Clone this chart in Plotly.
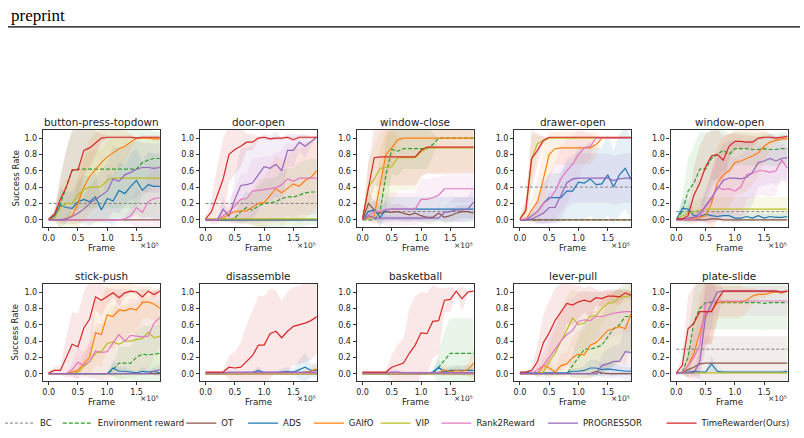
import plotly.graph_objects as go

FRAMES = [0, 10000, 20000, 30000, 40000, 50000, 60000, 70000, 80000, 90000,
          100000, 110000, 120000, 130000, 140000, 150000, 160000, 170000, 180000, 190000]

TASKS = ["button-press-topdown", "door-open", "window-close", "drawer-open", "window-open",
         "stick-push", "disassemble", "basketball", "lever-pull", "plate-slide"]
TASK_KEYS = ["BPT", "DO", "WC", "DRO", "WO", "SP", "DIS", "BB", "LP", "PS"]

METHODS = ["BC", "Environment reward", "OT", "ADS", "GAIfO", "VIP", "Rank2Reward", "PROGRESSOR", "TimeRewarder(Ours)"]
METHOD_KEYS = ["BC", "ENV", "OT", "ADS", "GAIFO", "VIP", "R2R", "PROG", "TR"]
COLORS = ["#7f7f7f", "#2ca02c", "#8c564b", "#1f77b4", "#ff7f0e", "#bcbd22", "#e377c2", "#9467bd", "#d62728"]

X_TICKS = [0, 50000, 100000, 150000]
X_TICK_TEXT = ["0.0", "0.5", "1.0", "1.5"]
Y_TICKS = [0.0, 0.2, 0.4, 0.6, 0.8, 1.0]
Y_TICK_TEXT = ["0.0", "0.2", "0.4", "0.6", "0.8", "1.0"]

# ---------------- button-press-topdown ----------------
BPT_BC = [0.2, 0.2, 0.2, 0.2, 0.2, 0.2, 0.2, 0.2, 0.2, 0.2, 0.2, 0.2, 0.2, 0.2, 0.2, 0.2, 0.2, 0.2, 0.2, 0.2]
BPT_ENV = [0.01, 0.03, 0.2, 0.4, 0.6, 0.62, 0.62, 0.62, 0.62, 0.62, 0.62, 0.62, 0.62, 0.62, 0.62, 0.62, 0.7, 0.73, 0.75, 0.75]
BPT_OT = [0, 0, 0, 0, 0, 0, 0, 0, 0, 0, 0, 0, 0, 0, 0, 0, 0, 0, 0, 0]
BPT_ADS = [0.0, 0.05, 0.18, 0.15, 0.14, 0.22, 0.25, 0.22, 0.28, 0.12, 0.26, 0.23, 0.36, 0.32, 0.41, 0.48, 0.36, 0.43, 0.41, 0.41]
BPT_GAIFO = [0, 0, 0, 0.01, 0.05, 0.2, 0.4, 0.53, 0.62, 0.7, 0.77, 0.82, 0.87, 0.9, 0.95, 1.0, 1.0, 1.0, 0.99, 0.99]
BPT_VIP = [0, 0.02, 0.15, 0.2, 0.2, 0.3, 0.37, 0.4, 0.4, 0.41, 0.48, 0.51, 0.51, 0.51, 0.51, 0.51, 0.51, 0.51, 0.51, 0.51]
BPT_R2R = [0, 0, 0, 0, 0, 0, 0, 0, 0, 0, 0, 0, 0, 0.01, 0.05, 0.15, 0.09, 0.22, 0.26, 0.27]
BPT_PROG = [0, 0, 0, 0.01, 0.04, 0.08, 0.13, 0.2, 0.25, 0.3, 0.35, 0.5, 0.47, 0.55, 0.58, 0.62, 0.64, 0.64, 0.63, 0.64]
BPT_TR = [0.01, 0.07, 0.25, 0.4, 0.61, 0.61, 0.85, 0.88, 0.94, 1.0, 1.01, 1.01, 1.01, 1.01, 1.01, 1.0, 1.01, 1.01, 1.01, 1.01]
BPT_ENV_SD = [0.01, 0.05, 0.3, 0.45, 0.48, 0.48, 0.48, 0.48, 0.48, 0.48, 0.48, 0.48, 0.48, 0.48, 0.48, 0.48, 0.4, 0.38, 0.33, 0.33]
BPT_ADS_SD = [0, 0.06, 0.2, 0.2, 0.2, 0.25, 0.3, 0.3, 0.3, 0.15, 0.3, 0.3, 0.35, 0.35, 0.4, 0.4, 0.35, 0.4, 0.4, 0.4]
BPT_GAIFO_SD = [0, 0, 0, 0.02, 0.1, 0.3, 0.4, 0.45, 0.45, 0.4, 0.35, 0.3, 0.25, 0.2, 0.1, 0.01, 0.01, 0.01, 0.02, 0.02]
BPT_VIP_SD = [0, 0.04, 0.25, 0.3, 0.3, 0.35, 0.4, 0.45, 0.45, 0.45, 0.48, 0.48, 0.48, 0.48, 0.48, 0.48, 0.48, 0.48, 0.48, 0.48]
BPT_R2R_SD = [0, 0, 0, 0, 0, 0, 0, 0, 0, 0, 0, 0, 0, 0.02, 0.1, 0.25, 0.2, 0.35, 0.4, 0.4]
BPT_PROG_SD = [0, 0, 0, 0.02, 0.05, 0.1, 0.15, 0.2, 0.25, 0.3, 0.35, 0.4, 0.4, 0.35, 0.35, 0.35, 0.3, 0.3, 0.3, 0.3]
BPT_TR_SD = [0.01, 0.08, 0.3, 0.45, 0.5, 0.5, 0.3, 0.25, 0.15, 0.05, 0.02, 0.02, 0.02, 0.02, 0.02, 0.02, 0.02, 0.02, 0.02, 0.02]

# ---------------- door-open ----------------
DO_BC = [0.2, 0.2, 0.2, 0.2, 0.2, 0.2, 0.2, 0.2, 0.2, 0.2, 0.2, 0.2, 0.2, 0.2, 0.2, 0.2, 0.2, 0.2, 0.2, 0.2]
DO_ENV = [0, 0, 0, 0, 0, 0.02, 0.1, 0.15, 0.12, 0.17, 0.2, 0.21, 0.22, 0.26, 0.28, 0.28, 0.3, 0.33, 0.34, 0.34]
DO_OT = [0, 0, 0, 0, 0, 0, 0, 0, 0, 0, 0, 0, 0, 0, 0, 0, 0, 0, 0, 0]
DO_ADS = [0, 0, 0, 0, 0, 0, 0, 0, 0, 0, 0, 0, 0, 0, 0, 0, 0, 0, 0, 0]
DO_GAIFO = [0, 0, 0, 0.02, 0.07, 0.1, 0.11, 0.11, 0.16, 0.2, 0.21, 0.3, 0.38, 0.33, 0.38, 0.44, 0.41, 0.48, 0.52, 0.6]
DO_VIP = [0.01, 0.01, 0.01, 0.01, 0.01, 0.01, 0.01, 0.01, 0.01, 0.01, 0.01, 0.01, 0.01, 0.01, 0.01, 0.01, 0.01, 0.01, 0.01, 0.01]
DO_R2R = [0, 0, 0, 0.05, 0.1, 0.17, 0.25, 0.26, 0.35, 0.36, 0.37, 0.38, 0.39, 0.43, 0.5, 0.47, 0.51, 0.51, 0.51, 0.51]
DO_PROG = [0, 0, 0, 0.13, 0.04, 0.25, 0.42, 0.43, 0.45, 0.55, 0.65, 0.63, 0.68, 0.6, 0.85, 0.85, 0.95, 0.9, 0.96, 1.01]
DO_TR = [0.01, 0.1, 0.3, 0.5, 0.8, 0.86, 0.9, 0.95, 0.95, 1.0, 1.01, 0.99, 1.0, 1.0, 1.01, 0.98, 1.01, 1.01, 1.01, 1.01]
DO_ENV_SD = [0, 0, 0, 0, 0, 0.03, 0.15, 0.2, 0.2, 0.25, 0.3, 0.3, 0.3, 0.35, 0.35, 0.35, 0.4, 0.4, 0.4, 0.4]
DO_GAIFO_SD = [0, 0, 0, 0.03, 0.1, 0.15, 0.15, 0.15, 0.2, 0.3, 0.3, 0.35, 0.4, 0.4, 0.4, 0.45, 0.45, 0.45, 0.45, 0.45]
DO_R2R_SD = [0, 0, 0, 0.08, 0.15, 0.2, 0.3, 0.3, 0.4, 0.4, 0.4, 0.4, 0.42, 0.42, 0.45, 0.45, 0.45, 0.45, 0.45, 0.45]
DO_PROG_SD = [0, 0, 0, 0.15, 0.05, 0.3, 0.45, 0.45, 0.45, 0.45, 0.4, 0.4, 0.4, 0.4, 0.2, 0.2, 0.1, 0.15, 0.05, 0.02]
DO_TR_SD = [0.01, 0.15, 0.35, 0.5, 0.35, 0.3, 0.25, 0.1, 0.1, 0.02, 0.02, 0.02, 0.02, 0.02, 0.02, 0.03, 0.02, 0.02, 0.02, 0.02]

# ---------------- window-close ----------------
WC_BC = [0.1, 0.1, 0.1, 0.1, 0.1, 0.1, 0.1, 0.1, 0.1, 0.1, 0.1, 0.1, 0.1, 0.1, 0.1, 0.1, 0.1, 0.1, 0.1, 0.1]
WC_ENV = [0, 0, 0, 0.1, 0.55, 0.86, 0.84, 0.87, 0.87, 0.87, 0.87, 0.87, 0.92, 1.0, 1.0, 1.0, 1.0, 1.0, 1.0, 1.0]
WC_OT = [0, 0.2, 0.12, 0.08, 0.1, 0.09, 0.1, 0.08, 0.06, 0.08, 0.05, 0.03, 0.03, 0.08, 0.03, 0.05, 0.08, 0.1, 0.1, 0.08]
WC_ADS = [0, 0.1, 0.12, 0.03, 0.12, 0.13, 0.13, 0.13, 0.13, 0.13, 0.13, 0.13, 0.13, 0.13, 0.13, 0.13, 0.13, 0.13, 0.13, 0.13]
WC_GAIFO = [0, 0.02, 0.05, 0.45, 0.8, 0.88, 0.98, 1.0, 1.0, 1.0, 1.0, 1.0, 1.0, 1.0, 1.0, 1.0, 1.0, 1.0, 1.0, 1.0]
WC_VIP = [0.01, 0.4, 0.5, 0.63, 0.64, 0.65, 0.76, 0.76, 0.76, 0.76, 0.83, 0.88, 0.88, 0.88, 0.88, 0.88, 0.88, 0.88, 0.88, 0.88]
WC_R2R = [0, 0.05, 0.1, 0.1, 0.13, 0.13, 0.13, 0.13, 0.13, 0.13, 0.25, 0.25, 0.27, 0.3, 0.38, 0.38, 0.38, 0.38, 0.38, 0.38]
WC_PROG = [0, 0.05, 0.02, 0.02, 0.02, 0.02, 0.02, 0.02, 0.02, 0.02, 0.02, 0.02, 0.02, 0.02, 0.09, 0.1, 0.12, 0.12, 0.13, 0.22]
WC_TR = [0.01, 0.4, 0.76, 0.77, 0.77, 0.77, 0.77, 0.77, 0.77, 0.77, 0.85, 0.89, 0.89, 0.89, 0.89, 0.89, 0.89, 0.89, 0.89, 0.89]
WC_ENV_SD = [0, 0, 0, 0.2, 0.45, 0.3, 0.3, 0.25, 0.25, 0.25, 0.25, 0.25, 0.15, 0, 0, 0, 0, 0, 0, 0]
WC_OT_SD = [0, 0.15, 0.12, 0.1, 0.1, 0.1, 0.1, 0.1, 0.08, 0.08, 0.08, 0.08, 0.08, 0.08, 0.08, 0.08, 0.08, 0.08, 0.08, 0.08]
WC_ADS_SD = [0, 0.1, 0.12, 0.08, 0.15, 0.15, 0.15, 0.15, 0.15, 0.15, 0.15, 0.15, 0.15, 0.15, 0.15, 0.15, 0.15, 0.15, 0.15, 0.15]
WC_GAIFO_SD = [0, 0.03, 0.1, 0.4, 0.3, 0.2, 0.05, 0, 0, 0, 0, 0, 0, 0, 0, 0, 0, 0, 0, 0]
WC_VIP_SD = [0, 0.3, 0.4, 0.45, 0.45, 0.45, 0.4, 0.4, 0.4, 0.4, 0.3, 0.3, 0.3, 0.3, 0.3, 0.3, 0.3, 0.3, 0.3, 0.3]
WC_R2R_SD = [0, 0.08, 0.15, 0.15, 0.2, 0.2, 0.2, 0.2, 0.2, 0.2, 0.25, 0.25, 0.25, 0.22, 0.17, 0.17, 0.17, 0.17, 0.17, 0.17]
WC_PROG_SD = [0, 0.05, 0.03, 0.03, 0.03, 0.03, 0.03, 0.03, 0.03, 0.03, 0.03, 0.03, 0.03, 0.03, 0.1, 0.12, 0.15, 0.15, 0.15, 0.2]
WC_TR_SD = [0.01, 0.3, 0.35, 0.35, 0.35, 0.35, 0.35, 0.35, 0.35, 0.35, 0.33, 0.33, 0.33, 0.33, 0.33, 0.33, 0.33, 0.33, 0.33, 0.33]

# ---------------- drawer-open ----------------
DRO_BC = [0.4, 0.4, 0.4, 0.4, 0.4, 0.4, 0.4, 0.4, 0.4, 0.4, 0.4, 0.4, 0.4, 0.4, 0.4, 0.4, 0.4, 0.4, 0.4, 0.4]
DRO_ENV = [0, 0, 0, 0, 0, 0, 0, 0, 0, 0, 0, 0, 0, 0, 0, 0, 0, 0, 0, 0]
DRO_OT = [0, 0, 0, 0, 0, 0, 0, 0, 0, 0, 0, 0, 0, 0, 0, 0, 0, 0, 0, 0]
DRO_ADS = [0, 0, 0.05, 0.1, 0.2, 0.27, 0.27, 0.27, 0.35, 0.35, 0.46, 0.45, 0.5, 0.43, 0.44, 0.55, 0.4, 0.55, 0.63, 0.49]
DRO_GAIFO = [0, 0, 0.12, 0.22, 0.5, 0.8, 0.87, 0.88, 0.88, 0.88, 0.88, 0.88, 0.88, 0.92, 1.0, 1.0, 1.0, 1.0, 1.0, 1.0]
DRO_VIP = [0.01, 0.1, 0.75, 0.93, 0.97, 1.0, 1.0, 1.0, 1.0, 1.0, 1.0, 1.0, 1.0, 1.0, 1.0, 1.0, 1.0, 1.0, 1.0, 1.0]
DRO_R2R = [0, 0.01, 0.05, 0.1, 0.2, 0.25, 0.35, 0.5, 0.6, 0.68, 0.8, 0.88, 0.9, 1.0, 1.0, 1.0, 1.0, 1.0, 1.0, 1.0]
DRO_PROG = [0, 0, 0.01, 0.05, 0.08, 0.15, 0.15, 0.3, 0.45, 0.5, 0.51, 0.51, 0.51, 0.51, 0.51, 0.51, 0.48, 0.5, 0.51, 0.51]
DRO_TR = [0.01, 0.12, 0.75, 0.85, 0.97, 1.01, 1.01, 1.01, 1.01, 1.01, 1.01, 1.01, 1.01, 1.01, 1.01, 1.01, 1.01, 1.01, 1.01, 1.01]
DRO_ADS_SD = [0, 0, 0.05, 0.15, 0.25, 0.3, 0.3, 0.3, 0.35, 0.35, 0.45, 0.45, 0.45, 0.45, 0.45, 0.5, 0.45, 0.5, 0.5, 0.5]
DRO_GAIFO_SD = [0, 0, 0.15, 0.25, 0.4, 0.3, 0.2, 0.2, 0.2, 0.2, 0.2, 0.2, 0.2, 0.15, 0, 0, 0, 0, 0, 0]
DRO_VIP_SD = [0.01, 0.1, 0.3, 0.1, 0.05, 0, 0, 0, 0, 0, 0, 0, 0, 0, 0, 0, 0, 0, 0, 0]
DRO_R2R_SD = [0, 0.02, 0.08, 0.15, 0.25, 0.3, 0.35, 0.4, 0.4, 0.35, 0.3, 0.2, 0.15, 0, 0, 0, 0, 0, 0, 0]
DRO_PROG_SD = [0, 0, 0.02, 0.08, 0.12, 0.2, 0.2, 0.3, 0.3, 0.3, 0.3, 0.3, 0.3, 0.3, 0.3, 0.3, 0.3, 0.3, 0.3, 0.3]
DRO_TR_SD = [0.01, 0.15, 0.35, 0.2, 0.05, 0, 0, 0, 0, 0, 0, 0, 0, 0, 0, 0, 0, 0, 0, 0]

# ---------------- window-open ----------------
WO_BC = [0.1, 0.1, 0.1, 0.1, 0.1, 0.1, 0.1, 0.1, 0.1, 0.1, 0.1, 0.1, 0.1, 0.1, 0.1, 0.1, 0.1, 0.1, 0.1, 0.1]
WO_ENV = [0, 0.1, 0.35, 0.45, 0.62, 0.62, 0.75, 0.8, 0.85, 0.8, 0.87, 0.87, 0.87, 0.86, 0.86, 0.87, 0.86, 0.86, 0.87, 0.87]
WO_OT = [0, 0, 0, 0, 0, 0, 0.01, 0.01, 0, 0, 0, 0, 0, 0, 0, 0, 0, 0, 0, 0]
WO_ADS = [0, 0.14, 0.13, 0.05, 0.04, 0.07, 0.05, 0.04, 0.05, 0.05, 0.02, 0.02, 0.04, 0.02, 0.05, 0.02, 0.04, 0.03, 0.03, 0.04]
WO_GAIFO = [0.01, 0.01, 0.01, 0.02, 0.03, 0.05, 0.2, 0.45, 0.55, 0.6, 0.7, 0.72, 0.75, 0.78, 0.82, 0.9, 0.95, 0.97, 0.99, 0.99]
WO_VIP = [0, 0.05, 0.08, 0.1, 0.12, 0.13, 0.13, 0.13, 0.13, 0.13, 0.13, 0.13, 0.13, 0.13, 0.13, 0.13, 0.13, 0.13, 0.13, 0.13]
WO_R2R = [0, 0, 0, 0, 0.05, 0.15, 0.25, 0.4, 0.37, 0.38, 0.35, 0.4, 0.55, 0.57, 0.6, 0.6, 0.58, 0.6, 0.73, 0.63]
WO_PROG = [0, 0.01, 0.02, 0.03, 0.08, 0.17, 0.27, 0.38, 0.48, 0.51, 0.51, 0.5, 0.52, 0.58, 0.7, 0.72, 0.75, 0.72, 0.75, 0.76]
WO_TR = [0.01, 0.01, 0.05, 0.3, 0.45, 0.65, 0.78, 0.8, 0.73, 0.9, 0.96, 0.96, 0.95, 0.95, 1.0, 1.01, 1.01, 1.0, 1.01, 1.02]
WO_ENV_SD = [0, 0.15, 0.4, 0.45, 0.45, 0.45, 0.35, 0.3, 0.25, 0.25, 0.2, 0.2, 0.2, 0.2, 0.2, 0.2, 0.2, 0.2, 0.2, 0.2]
WO_ADS_SD = [0, 0.12, 0.12, 0.06, 0.05, 0.06, 0.05, 0.05, 0.05, 0.05, 0.05, 0.05, 0.05, 0.05, 0.05, 0.05, 0.05, 0.05, 0.05, 0.05]
WO_GAIFO_SD = [0, 0, 0, 0, 0, 0.08, 0.4, 0.45, 0.45, 0.45, 0.4, 0.4, 0.4, 0.35, 0.3, 0.2, 0.1, 0.05, 0.02, 0.02]
WO_VIP_SD = [0, 0.06, 0.1, 0.12, 0.14, 0.15, 0.15, 0.15, 0.15, 0.15, 0.15, 0.15, 0.15, 0.15, 0.15, 0.15, 0.15, 0.15, 0.15, 0.15]
WO_R2R_SD = [0, 0, 0, 0, 0.08, 0.2, 0.3, 0.4, 0.4, 0.4, 0.4, 0.4, 0.3, 0.3, 0.3, 0.3, 0.3, 0.3, 0.2, 0.25]
WO_PROG_SD = [0, 0.01, 0.02, 0.04, 0.1, 0.2, 0.3, 0.4, 0.45, 0.45, 0.45, 0.45, 0.45, 0.4, 0.3, 0.3, 0.3, 0.3, 0.28, 0.28]
WO_TR_SD = [0.01, 0.01, 0.08, 0.35, 0.45, 0.4, 0.3, 0.3, 0.3, 0.15, 0.1, 0.08, 0.08, 0.08, 0.02, 0.02, 0.02, 0.02, 0.02, 0.02]

# ---------------- stick-push ----------------
SP_BC = [0, 0, 0, 0, 0, 0, 0, 0, 0, 0, 0, 0, 0, 0, 0, 0, 0, 0, 0, 0]
SP_ENV = [0, 0, 0, 0, 0, 0, 0, 0, 0, 0, 0, 0.05, 0.13, 0.13, 0.13, 0.2, 0.24, 0.23, 0.24, 0.25]
SP_OT = [0, 0, 0, 0, 0, 0, 0, 0, 0, 0, 0, 0, 0, 0, 0, 0, 0, 0, 0, 0]
SP_ADS = [0, 0, 0, 0, 0, 0, 0, 0, 0, 0, 0, 0.07, 0.03, 0.03, 0.02, 0.01, 0.03, 0.02, 0.03, 0.01]
SP_GAIFO = [0, 0, 0, 0, 0.02, 0.04, 0.12, 0.2, 0.5, 0.48, 0.72, 0.7, 0.78, 0.77, 0.8, 0.78, 0.87, 0.88, 0.85, 0.8]
SP_VIP = [0, 0, 0, 0, 0, 0.02, 0.08, 0.15, 0.25, 0.27, 0.37, 0.39, 0.36, 0.4, 0.4, 0.42, 0.43, 0.51, 0.44, 0.46]
SP_R2R = [0, 0, 0, 0, 0.05, 0.14, 0.1, 0.15, 0.28, 0.26, 0.27, 0.38, 0.48, 0.4, 0.47, 0.46, 0.45, 0.46, 0.62, 0.69]
SP_PROG = [0, 0, 0, 0, 0, 0, 0, 0, 0, 0, 0, 0, 0, 0, 0, 0, 0, 0, 0.03, 0.05]
SP_TR = [0.01, 0.04, 0.04, 0.2, 0.36, 0.33, 0.56, 0.67, 0.94, 0.9, 0.95, 0.99, 0.93, 0.99, 1.01, 1.0, 0.94, 1.01, 0.97, 1.01]
SP_ENV_SD = [0, 0, 0, 0, 0, 0, 0, 0, 0, 0, 0, 0.08, 0.2, 0.2, 0.2, 0.3, 0.35, 0.35, 0.35, 0.35]
SP_ADS_SD = [0, 0, 0, 0, 0, 0, 0, 0, 0, 0, 0, 0.1, 0.05, 0.05, 0.03, 0.02, 0.05, 0.03, 0.05, 0.02]
SP_GAIFO_SD = [0, 0, 0, 0, 0.03, 0.05, 0.15, 0.2, 0.4, 0.4, 0.4, 0.4, 0.35, 0.35, 0.3, 0.3, 0.2, 0.2, 0.2, 0.25]
SP_VIP_SD = [0, 0, 0, 0, 0, 0.03, 0.1, 0.2, 0.3, 0.35, 0.4, 0.45, 0.45, 0.45, 0.45, 0.45, 0.45, 0.45, 0.45, 0.45]
SP_R2R_SD = [0, 0, 0, 0, 0.08, 0.2, 0.15, 0.2, 0.35, 0.35, 0.35, 0.4, 0.45, 0.4, 0.45, 0.45, 0.45, 0.45, 0.4, 0.35]
SP_PROG_SD = [0, 0, 0, 0, 0, 0, 0, 0, 0, 0, 0, 0, 0, 0, 0, 0, 0, 0, 0.05, 0.08]
SP_TR_SD = [0.01, 0.05, 0.05, 0.25, 0.4, 0.4, 0.45, 0.45, 0.15, 0.2, 0.1, 0.05, 0.1, 0.05, 0.02, 0.02, 0.1, 0.02, 0.05, 0.02]

# ---------------- disassemble ----------------
DIS_BC = [0, 0, 0, 0, 0, 0, 0, 0, 0, 0, 0, 0, 0, 0, 0, 0, 0, 0, 0, 0]
DIS_ENV = [0, 0, 0, 0, 0, 0, 0, 0, 0, 0, 0, 0, 0, 0, 0, 0, 0, 0, 0, 0]
DIS_OT = [0, 0, 0, 0, 0, 0, 0, 0, 0, 0, 0, 0, 0, 0, 0, 0, 0, 0, 0, 0]
DIS_ADS = [0, 0, 0, 0, 0, 0, 0, 0.01, 0.01, 0.04, 0.01, 0.01, 0.01, 0.02, 0.03, 0.02, 0.05, 0.08, 0.04, 0.04]
DIS_GAIFO = [0, 0, 0, 0, 0, 0, 0, 0, 0, 0, 0, 0, 0, 0, 0, 0, 0, 0.02, 0.03, 0.06]
DIS_VIP = [0, 0, 0, 0, 0, 0, 0, 0, 0, 0, 0, 0, 0, 0, 0, 0, 0, 0, 0, 0]
DIS_R2R = [0.01, 0.01, 0.01, 0.01, 0.01, 0.01, 0.01, 0.01, 0.01, 0.01, 0.01, 0.01, 0.01, 0.01, 0.01, 0.01, 0.01, 0.01, 0.01, 0.01]
DIS_PROG = [0.01, 0.01, 0.01, 0.01, 0.02, 0.02, 0.02, 0.02, 0.02, 0.02, 0.02, 0.02, 0.02, 0.02, 0.02, 0.02, 0.02, 0.02, 0.02, 0.02]
DIS_TR = [0.02, 0.02, 0.02, 0.02, 0.08, 0.07, 0.08, 0.15, 0.22, 0.35, 0.35, 0.49, 0.52, 0.44, 0.52, 0.58, 0.6, 0.62, 0.65, 0.7]
DIS_ADS_SD = [0, 0, 0, 0, 0, 0, 0, 0.01, 0.02, 0.05, 0.02, 0.02, 0.02, 0.04, 0.05, 0.04, 0.12, 0.18, 0.08, 0.08]
DIS_GAIFO_SD = [0, 0, 0, 0, 0, 0, 0, 0, 0, 0, 0, 0, 0, 0, 0, 0, 0, 0.03, 0.05, 0.08]
DIS_TR_SD = [0.01, 0.01, 0.01, 0.01, 0.15, 0.2, 0.3, 0.45, 0.55, 0.6, 0.6, 0.55, 0.5, 0.45, 0.48, 0.48, 0.48, 0.48, 0.48, 0.45]

# ---------------- basketball ----------------
BB_BC = [0, 0, 0, 0, 0, 0, 0, 0, 0, 0, 0, 0, 0, 0, 0, 0, 0, 0, 0, 0]
BB_ENV = [0, 0, 0, 0, 0, 0, 0, 0, 0, 0, 0, 0, 0, 0.08, 0.17, 0.25, 0.25, 0.25, 0.25, 0.25]
BB_OT = [0, 0, 0, 0, 0, 0, 0, 0, 0, 0, 0, 0, 0, 0, 0, 0, 0, 0, 0, 0]
BB_ADS = [0, 0, 0, 0, 0, 0, 0, 0, 0, 0, 0, 0, 0.02, 0.08, 0.02, 0.04, 0.04, 0.04, 0.04, 0.04]
BB_GAIFO = [0, 0, 0, 0, 0, 0, 0, 0, 0, 0, 0, 0, 0, 0.01, 0.05, 0.02, 0.04, 0.03, 0.05, 0.13]
BB_VIP = [0, 0, 0, 0, 0, 0, 0, 0, 0, 0, 0, 0, 0, 0, 0, 0, 0, 0, 0, 0]
BB_R2R = [0.01, 0.01, 0.01, 0.01, 0.01, 0.01, 0.01, 0.01, 0.01, 0.01, 0.01, 0.01, 0.01, 0.01, 0.01, 0.01, 0.01, 0.01, 0.01, 0.01]
BB_PROG = [0.01, 0.01, 0.01, 0.01, 0.01, 0.02, 0.02, 0.01, 0.01, 0.01, 0.01, 0.01, 0.01, 0.01, 0.01, 0.01, 0.01, 0.01, 0.01, 0.01]
BB_TR = [0.02, 0.02, 0.02, 0.02, 0.02, 0.08, 0.11, 0.13, 0.25, 0.35, 0.5, 0.49, 0.64, 0.65, 0.9, 0.91, 1.01, 0.92, 1.0, 1.01]
BB_ENV_SD = [0, 0, 0, 0, 0, 0, 0, 0, 0, 0, 0, 0, 0, 0.2, 0.35, 0.43, 0.43, 0.43, 0.43, 0.43]
BB_ADS_SD = [0, 0, 0, 0, 0, 0, 0, 0, 0, 0, 0, 0, 0.03, 0.1, 0.03, 0.06, 0.06, 0.06, 0.06, 0.06]
BB_GAIFO_SD = [0, 0, 0, 0, 0, 0, 0, 0, 0, 0, 0, 0, 0, 0.02, 0.08, 0.04, 0.06, 0.05, 0.08, 0.2]
BB_PROG_SD = [0, 0, 0, 0, 0.02, 0.03, 0.03, 0.02, 0.02, 0.02, 0.02, 0.02, 0.02, 0.02, 0.02, 0.02, 0.02, 0.02, 0.02, 0.02]
BB_TR_SD = [0.01, 0.01, 0.01, 0.01, 0.02, 0.15, 0.25, 0.3, 0.55, 0.6, 0.5, 0.5, 0.45, 0.4, 0.15, 0.15, 0.02, 0.15, 0.02, 0.02]

# ---------------- lever-pull ----------------
LP_BC = [0, 0, 0, 0, 0, 0, 0, 0, 0, 0, 0, 0, 0, 0, 0, 0, 0, 0, 0, 0]
LP_ENV = [0, 0, 0, 0, 0, 0, 0, 0, 0, 0.1, 0.2, 0.3, 0.3, 0.32, 0.35, 0.45, 0.55, 0.6, 0.7, 0.7]
LP_OT = [0, 0, 0, 0, 0, 0, 0, 0, 0, 0, 0, 0, 0, 0.03, 0.01, 0, 0, 0, 0, 0]
LP_ADS = [0.01, 0.01, 0.01, 0.01, 0.01, 0.01, 0.01, 0.01, 0.01, 0.03, 0.03, 0.04, 0.07, 0.07, 0.05, 0.06, 0.05, 0.04, 0.03, 0.03]
LP_GAIFO = [0, 0, 0, 0, 0.1, 0.07, 0.02, 0.1, 0.12, 0.2, 0.24, 0.23, 0.35, 0.38, 0.45, 0.53, 0.55, 0.58, 0.55, 0.73]
LP_VIP = [0, 0, 0, 0, 0.02, 0.15, 0.25, 0.4, 0.55, 0.68, 0.6, 0.62, 0.7, 0.71, 0.8, 0.86, 0.87, 0.94, 0.94, 0.96]
LP_R2R = [0, 0, 0, 0.05, 0.1, 0.2, 0.3, 0.4, 0.48, 0.53, 0.64, 0.66, 0.65, 0.7, 0.7, 0.72, 0.74, 0.75, 0.76, 0.76]
LP_PROG = [0, 0, 0, 0, 0, 0, 0, 0, 0, 0, 0, 0, 0, 0, 0.1, 0.12, 0.15, 0.15, 0.27, 0.26]
LP_TR = [0.02, 0.02, 0.04, 0.15, 0.38, 0.5, 0.65, 0.75, 0.86, 0.84, 0.88, 0.9, 0.88, 0.93, 0.92, 0.95, 0.95, 0.94, 0.99, 0.96]
LP_ENV_SD = [0, 0, 0, 0, 0, 0, 0, 0, 0, 0.15, 0.25, 0.35, 0.35, 0.35, 0.35, 0.45, 0.45, 0.45, 0.45, 0.45]
LP_ADS_SD = [0.01, 0.01, 0.01, 0.01, 0.01, 0.01, 0.01, 0.01, 0.01, 0.04, 0.04, 0.05, 0.1, 0.1, 0.08, 0.08, 0.08, 0.06, 0.05, 0.05]
LP_GAIFO_SD = [0, 0, 0, 0, 0.1, 0.1, 0.04, 0.15, 0.15, 0.25, 0.3, 0.3, 0.4, 0.4, 0.45, 0.45, 0.45, 0.45, 0.45, 0.4]
LP_VIP_SD = [0, 0, 0, 0, 0.04, 0.2, 0.3, 0.4, 0.4, 0.35, 0.4, 0.4, 0.3, 0.3, 0.2, 0.15, 0.15, 0.08, 0.08, 0.05]
LP_R2R_SD = [0, 0, 0, 0.08, 0.15, 0.25, 0.3, 0.35, 0.4, 0.4, 0.35, 0.35, 0.35, 0.3, 0.3, 0.3, 0.28, 0.28, 0.25, 0.25]
LP_PROG_SD = [0, 0, 0, 0, 0, 0, 0, 0, 0, 0, 0, 0, 0, 0, 0.15, 0.18, 0.2, 0.2, 0.35, 0.35]
LP_TR_SD = [0.01, 0.01, 0.04, 0.2, 0.35, 0.4, 0.4, 0.35, 0.25, 0.25, 0.2, 0.15, 0.2, 0.1, 0.1, 0.08, 0.08, 0.1, 0.05, 0.05]

# ---------------- plate-slide ----------------
PS_BC = [0.3, 0.3, 0.3, 0.3, 0.3, 0.3, 0.3, 0.3, 0.3, 0.3, 0.3, 0.3, 0.3, 0.3, 0.3, 0.3, 0.3, 0.3, 0.3, 0.3]
PS_ENV = [0, 0.02, 0.2, 0.63, 0.8, 0.87, 0.87, 0.87, 0.87, 0.87, 0.87, 0.87, 0.87, 0.87, 0.87, 0.86, 0.87, 0.87, 0.87, 0.87]
PS_OT = [0, 0.01, 0.05, 0.08, 0.12, 0.13, 0.13, 0.13, 0.13, 0.13, 0.13, 0.13, 0.13, 0.13, 0.13, 0.13, 0.13, 0.13, 0.13, 0.13]
PS_ADS = [0, 0.01, 0.02, 0.03, 0.02, 0.02, 0.12, 0.03, 0.02, 0.02, 0.02, 0.02, 0.02, 0.02, 0.02, 0.02, 0.02, 0.02, 0.02, 0.03]
PS_GAIFO = [0, 0.01, 0.1, 0.25, 0.5, 0.75, 0.77, 0.87, 0.88, 0.88, 0.88, 0.88, 0.9, 0.95, 0.97, 0.97, 0.99, 1.0, 0.99, 1.01]
PS_VIP = [0, 0.01, 0.01, 0.01, 0.01, 0.01, 0.01, 0.01, 0.01, 0.01, 0.01, 0.01, 0.01, 0.01, 0.01, 0.01, 0.01, 0.01, 0.01, 0.01]
PS_R2R = [0, 0.01, 0.1, 0.2, 0.35, 0.86, 0.89, 0.89, 0.89, 0.89, 0.89, 0.89, 0.89, 0.89, 0.89, 0.89, 0.89, 0.89, 0.89, 0.89]
PS_PROG = [0.01, 0.01, 0.01, 0.01, 0.15, 0.7, 0.85, 1.0, 1.01, 1.01, 1.01, 1.01, 1.01, 1.01, 1.01, 1.01, 1.01, 1.01, 1.0, 1.01]
PS_TR = [0.01, 0.1, 0.55, 0.62, 0.76, 0.76, 0.76, 0.9, 1.01, 1.01, 1.01, 1.01, 1.01, 1.01, 1.01, 1.01, 1.01, 1.01, 1.0, 1.01]
PS_ENV_SD = [0, 0.03, 0.25, 0.4, 0.35, 0.33, 0.33, 0.33, 0.33, 0.33, 0.33, 0.33, 0.33, 0.33, 0.33, 0.33, 0.33, 0.33, 0.33, 0.33]
PS_OT_SD = [0, 0.01, 0.08, 0.12, 0.2, 0.33, 0.33, 0.33, 0.33, 0.33, 0.33, 0.33, 0.33, 0.33, 0.33, 0.33, 0.33, 0.33, 0.33, 0.33]
PS_ADS_SD = [0, 0.01, 0.02, 0.03, 0.02, 0.02, 0.1, 0.03, 0.02, 0.02, 0.02, 0.02, 0.02, 0.02, 0.02, 0.02, 0.02, 0.02, 0.02, 0.03]
PS_GAIFO_SD = [0, 0.01, 0.15, 0.3, 0.45, 0.4, 0.4, 0.2, 0.2, 0.2, 0.2, 0.2, 0.15, 0.1, 0.05, 0.05, 0.02, 0, 0.02, 0]
PS_R2R_SD = [0, 0.02, 0.15, 0.3, 0.4, 0.2, 0.18, 0.18, 0.18, 0.18, 0.18, 0.18, 0.18, 0.18, 0.18, 0.18, 0.18, 0.18, 0.18, 0.18]
PS_PROG_SD = [0, 0, 0, 0.02, 0.2, 0.4, 0.3, 0, 0, 0, 0, 0, 0, 0, 0, 0, 0, 0, 0.02, 0]
PS_TR_SD = [0.01, 0.1, 0.4, 0.45, 0.4, 0.4, 0.4, 0.25, 0.02, 0.02, 0.02, 0.02, 0.02, 0.02, 0.02, 0.02, 0.02, 0.02, 0.02, 0.02]

# ---------------- layout constants (pixels) ----------------
W, H = 804, 438
COL_LEFT = [40, 197.5, 355, 513, 670]
PANEL_W = 117.5
ROW_TOP = [130.8, 285.8]
PANEL_H = 97.9
Y_RANGE = [-0.09, 1.1]
X_RANGE = [-10000, 190000]
LEGEND_TEXT_X = [37, 95, 219, 281, 347, 414, 475, 582, 701]
LEGEND_Y = 426
FONT = "DejaVu Sans"
TXT = "#222222"


def rgba(hex_color, a):
    h = hex_color.lstrip("#")
    return "rgba(%d,%d,%d,%.3f)" % (int(h[0:2], 16), int(h[2:4], 16), int(h[4:6], 16), a)


g = globals()
fig = go.Figure()
annotations = []

for ti, (task, tk) in enumerate(zip(TASKS, TASK_KEYS)):
    r, c = divmod(ti, 5)
    idx = ti + 1
    xa = "x" if idx == 1 else "x%d" % idx
    ya = "y" if idx == 1 else "y%d" % idx
    # shaded bands (mean +/- sd)
    for mi, mk in enumerate(METHOD_KEYS):
        mean = g["%s_%s" % (tk, mk)]
        if len(mean) != 20:
            raise ValueError("%s_%s" % (tk, mk))
        sd = g.get("%s_%s_SD" % (tk, mk))
        if sd is None:
            continue
        if len(sd) != 20:
            raise ValueError("%s_%s_SD" % (tk, mk))
        upper = [m + s for m, s in zip(mean, sd)]
        lower = [m - s for m, s in zip(mean, sd)]
        fig.add_trace(go.Scatter(
            x=FRAMES + FRAMES[::-1], y=upper + lower[::-1],
            fill="toself", fillcolor=rgba(COLORS[mi], 0.11),
            line=dict(width=0), mode="lines", hoverinfo="skip",
            showlegend=False, xaxis=xa, yaxis=ya))
    # mean lines
    for mi, mk in enumerate(METHOD_KEYS):
        mean = g["%s_%s" % (tk, mk)]
        if mk == "BC":
            line = dict(color=COLORS[mi], width=1.0, dash="3px,2px")
        elif mk == "ENV":
            line = dict(color=COLORS[mi], width=1.2, dash="4px,2px")
        else:
            line = dict(color=COLORS[mi], width=1.2)
        leg = "legend" if mi == 0 else "legend%d" % (mi + 1)
        fig.add_trace(go.Scatter(
            x=FRAMES, y=mean, mode="lines", line=line, name=METHODS[mi],
            showlegend=(ti == 0), legend=leg, xaxis=xa, yaxis=ya))

    left = COL_LEFT[c]
    top = ROW_TOP[r]
    xdom = [left / W, (left + PANEL_W) / W]
    ydom = [1 - (top + PANEL_H) / H, 1 - top / H]
    axis_common = dict(showline=True, mirror=True, linecolor="#333333", linewidth=1.2,
                       ticks="outside", ticklen=3, tickwidth=0.8, tickcolor="#333333",
                       showgrid=False, zeroline=False,
                       tickfont=dict(family=FONT, size=8, color=TXT))
    fig.layout["xaxis" if idx == 1 else "xaxis%d" % idx] = dict(
        domain=xdom, anchor=ya, range=X_RANGE, tickvals=X_TICKS, ticktext=X_TICK_TEXT, **axis_common)
    fig.layout["yaxis" if idx == 1 else "yaxis%d" % idx] = dict(
        domain=ydom, anchor=xa, range=Y_RANGE, tickvals=Y_TICKS, ticktext=Y_TICK_TEXT, **axis_common)

    cx = (left + PANEL_W / 2) / W
    annotations.append(dict(text=task, x=cx, y=1 - (top - 8) / H, xref="paper", yref="paper",
                            showarrow=False, xanchor="center", yanchor="middle",
                            font=dict(family=FONT, size=10.4, color=TXT)))
    annotations.append(dict(text="Frame", x=cx, y=1 - (top + PANEL_H + 21) / H, xref="paper", yref="paper",
                            showarrow=False, xanchor="center", yanchor="middle",
                            font=dict(family=FONT, size=8.7, color=TXT)))
    annotations.append(dict(text="×10⁵", x=(left + PANEL_W + 1) / W, y=1 - (top + PANEL_H + 18) / H,
                            xref="paper", yref="paper", showarrow=False, xanchor="right", yanchor="middle",
                            font=dict(family=FONT, size=7.5, color=TXT)))
    if c == 0:
        annotations.append(dict(text="Success Rate", x=13 / W, y=1 - (top + PANEL_H / 2) / H,
                                xref="paper", yref="paper", showarrow=False, textangle=-90,
                                xanchor="center", yanchor="middle",
                                font=dict(family=FONT, size=8.5, color=TXT)))

annotations.append(dict(text="preprint", x=6 / W, y=1 - 16 / H, xref="paper", yref="paper",
                        showarrow=False, xanchor="left", yanchor="middle",
                        font=dict(family="Liberation Serif", size=17, color="#000000")))

legends = {}
for mi in range(len(METHODS)):
    key = "legend" if mi == 0 else "legend%d" % (mi + 1)
    legends[key] = dict(x=(LEGEND_TEXT_X[mi] - 40) / W, y=1 - LEGEND_Y / H, xanchor="left", yanchor="middle",
                        orientation="h", bgcolor="rgba(0,0,0,0)", borderwidth=0,
                        font=dict(family=FONT, size=8.5, color=TXT), itemwidth=30)

fig.update_layout(
    width=W, height=H, margin=dict(l=0, r=0, t=0, b=0),
    paper_bgcolor="white", plot_bgcolor="white",
    annotations=annotations,
    shapes=[dict(type="line", xref="paper", yref="paper", x0=5 / W, x1=800 / W,
                 y0=1 - 27 / H, y1=1 - 27 / H, line=dict(color="#000000", width=1.3))],
    **legends)

fig.write_html("out.html")
